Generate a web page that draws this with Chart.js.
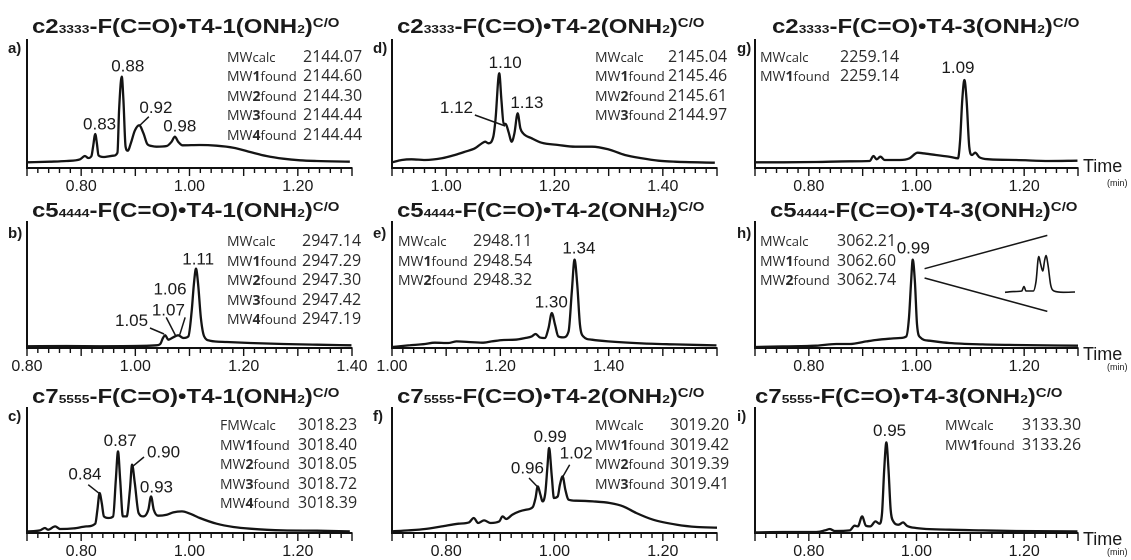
<!DOCTYPE html>
<html><head><meta charset="utf-8">
<script src="https://cdn.jsdelivr.net/npm/chart.js@4.4.1/dist/chart.umd.min.js"></script>
<style>
html,body{margin:0;padding:0;background:#fff;}
#fig{position:relative;width:1131px;height:560px;overflow:hidden;background:#fff;}
.cv{position:absolute;}
.t{position:absolute;white-space:nowrap;line-height:1;color:#1a1a1a;}
.title{font-family:"Liberation Sans",Arial,sans-serif;font-weight:bold;font-size:20px;transform:scaleX(1.2);transform-origin:0 0;}
.title .sb{font-size:11.5px;line-height:0;}
.title .sp{font-size:12.5px;line-height:0;vertical-align:6px;}
.let{font-family:"Liberation Sans",Arial,sans-serif;font-weight:bold;font-size:15px;}
.mwl{font-family:"Open Sans",sans-serif;font-size:14px;color:#2b2b2b;}
.mwl b{font-weight:700;}
.mwl .s{font-size:13px;}
.mwv{font-family:"Open Sans",sans-serif;font-size:16px;color:#2b2b2b;}
.time{font-family:"Liberation Sans",Arial,sans-serif;font-size:18px;}
.mins{font-family:"Liberation Sans",Arial,sans-serif;font-size:9px;}
</style></head>
<body><div id="fig"></div>
<script>
// ---------- data (time in min, signal in arbitrary units) ----------
const aTime=[0.700,0.742,0.773,0.798,0.807,0.813,0.819,0.822,0.826,0.829,0.832,0.841,0.859,0.867,0.870,0.875,0.878,0.882,0.886,0.892,0.899,0.907,0.915,0.922,0.930,0.939,0.958,0.967,0.973,0.979,0.987,1.019,1.050,1.081,1.112,1.142,1.173,1.204,1.235,1.296];
const aSignal=[5.7,6.3,7,8.7,12,10,12,21.3,34,24.7,12.7,11,12.3,15.3,58,91.3,68,21.3,17.3,25.3,37.3,42.7,34.7,24,22,21.3,22,26.3,31.3,26.3,22.7,23,22.3,20.3,16,12,9.3,7.7,7,6.3];
const dTime=[0.900,0.918,0.936,0.961,0.992,1.016,1.035,1.053,1.066,1.072,1.078,1.087,1.091,1.098,1.102,1.106,1.110,1.115,1.121,1.126,1.132,1.137,1.142,1.158,1.176,1.207,1.238,1.269,1.299,1.330,1.361,1.392,1.422,1.496];
const dSignal=[5.7,8,8.7,8,9.7,13,16.3,19.7,24.7,26.3,24.7,31.3,48,94.7,68,44.7,44,36.3,26.3,34.7,54.7,39.7,34.7,29.7,25.3,23,21.3,21.3,18.7,13,9.7,7.3,6.3,5.3];
const gTime=[0.700,0.752,0.814,0.876,0.913,0.920,0.926,0.933,0.941,0.969,0.987,1.002,1.012,1.036,1.061,1.077,1.081,1.085,1.089,1.093,1.098,1.103,1.109,1.117,1.135,1.185,1.246,1.299];
const gSignal=[5.7,5.7,6,6.7,7,12,8.7,11.3,8,8,9.7,15.3,14.7,13,11.3,9.7,27.7,68,88,68,21.3,13,15.3,10.7,8.7,8,7,7.3];
const bTime=[0.800,0.873,0.935,0.996,1.039,1.046,1.051,1.055,1.061,1.070,1.079,1.089,1.098,1.104,1.108,1.112,1.116,1.121,1.127,1.138,1.169,1.212,1.273,1.335,1.399];
const bSignal=[1.7,2,1.7,2,2.7,4,10,12.7,8.3,10.7,12.7,10,11.7,36.7,63.3,79.3,63.3,30,11.7,7.3,6,5,4,3.3,2.7];
const eTime=[1.000,1.030,1.061,1.079,1.104,1.119,1.141,1.166,1.184,1.206,1.227,1.246,1.258,1.265,1.273,1.282,1.289,1.295,1.301,1.307,1.316,1.326,1.332,1.337,1.342,1.347,1.353,1.369,1.399,1.461,1.522,1.599];
const eSignal=[1,2.6,4,5.3,5,6.6,6,5.3,6.6,8,8.3,10,11.6,14,10.6,10,20,35,23.3,11.6,10.6,16.6,56.6,88.3,63.3,23.3,11.6,8.3,6.6,4.6,3.6,2.6];
const hTime=[0.700,0.752,0.814,0.851,0.876,0.907,0.925,0.950,0.969,0.981,0.986,0.990,0.993,0.997,1.001,1.007,1.024,1.061,1.123,1.185,1.300];
const hSignal=[1,1.6,2.3,4,4,6.6,8,9.3,10,11.6,30,66.6,88.3,66.6,23.3,10.6,7.3,5,3.6,3,2.3];
const hInsetOffset=[0,8.3,16.7,19,21,28.3,31,33.7,35.7,37.7,39.7,41,43,45.7,49,58.3,70];
const hInsetSignal=[0,0.7,1.3,5.7,1.3,1.3,10.7,35.7,28,21.3,32.3,36.7,27.3,7.3,1.3,0,0.3];
const cTime=[0.700,0.724,0.733,0.739,0.752,0.761,0.786,0.810,0.826,0.830,0.834,0.838,0.842,0.850,0.859,0.864,0.868,0.872,0.877,0.884,0.890,0.894,0.899,0.906,0.915,0.924,0.929,0.934,0.942,0.958,0.970,0.986,1.001,1.019,1.050,1.081,1.112,1.173,1.235,1.296];
const cSignal=[1.6,2.6,5,3.3,6.6,4,4.6,6.6,9.3,23.3,40,30,16.6,15,16.6,53.3,81.6,53.3,16.6,16.6,43.3,68.3,50,20,16.6,23.3,36.6,23.3,17.3,18.3,20.6,21.6,19.3,15,9.3,6,4.3,2.6,2.3,1.6];
const fTime=[0.700,0.730,0.761,0.792,0.823,0.842,0.851,0.859,0.870,0.882,0.898,0.904,0.911,0.922,0.935,0.947,0.960,0.965,0.969,0.974,0.978,0.983,0.987,0.990,0.995,0.999,1.006,1.010,1.015,1.020,1.026,1.040,1.071,1.102,1.127,1.151,1.182,1.226,1.263,1.300];
const fSignal=[1.6,2.6,4,6.6,9.3,10.6,15,10,12.6,10,11.6,16.6,14,18.3,21.6,23.3,26,35,46.6,38.3,31.6,40,66.6,85,56.6,35,36.6,48.3,56.6,43.3,33.3,32.3,31.6,30,26.6,20,13.3,8.3,6,5.3];
const iTime=[0.700,0.752,0.814,0.830,0.839,0.848,0.876,0.885,0.891,0.899,0.906,0.914,0.924,0.931,0.936,0.940,0.944,0.948,0.952,0.957,0.967,0.975,0.982,0.999,1.061,1.123,1.185,1.299];
const iSignal=[0.6,1,1,2.6,4,2,2.6,7.3,6.6,16.6,7.3,6.6,11.6,9.3,20,63.3,90.6,63.3,23.3,11.6,8.3,10.6,7.3,5,3.3,2.6,2,1.6];

// tick labels shown (hundredths of a minute)
const labelsABC=[80,100,120], labelsB=[80,100,120,140], labelsDE=[100,120,140];

// mass tables
const aMW=[['MW','','calc','2144.07'],['MW','1','found','2144.60'],['MW','2','found','2144.30'],['MW','3','found','2144.44'],['MW','4','found','2144.44']];
const dMW=[['MW','','calc','2145.04'],['MW','1','found','2145.46'],['MW','2','found','2145.61'],['MW','3','found','2144.97']];
const gMW=[['MW','','calc','2259.14'],['MW','1','found','2259.14']];
const bMW=[['MW','','calc','2947.14'],['MW','1','found','2947.29'],['MW','2','found','2947.30'],['MW','3','found','2947.42'],['MW','4','found','2947.19']];
const eMW=[['MW','','calc','2948.11'],['MW','1','found','2948.54'],['MW','2','found','2948.32']];
const hMW=[['MW','','calc','3062.21'],['MW','1','found','3062.60'],['MW','2','found','3062.74']];
const cMW=[['FMW','','calc','3018.23'],['MW','1','found','3018.40'],['MW','2','found','3018.05'],['MW','3','found','3018.72'],['MW','4','found','3018.39']];
const fMW=[['MW','','calc','3019.20'],['MW','1','found','3019.42'],['MW','2','found','3019.39'],['MW','3','found','3019.41']];
const iMW=[['MW','','calc','3133.30'],['MW','1','found','3133.26']];

// peak annotations [text, time, signal] and leader lines [t1,s1,t2,s2]
const aPeaks=[['0.83',0.834,43],['0.88',0.886,101],['0.92',0.938,59.7],['0.98',0.982,41.3]];
const aLeaders=[[0.909,43,0.925,51.3]];
const dPeaks=[['1.10',1.109,104.7],['1.12',1.019,59.7],['1.13',1.149,64.7]];
const dLeaders=[[1.053,53,1.109,42]];
const gPeaks=[['1.09',1.077,99.7]];
const bPeaks=[['1.11',1.116,88.3],['1.06',1.064,58.3],['1.07',1.061,37.3],['1.05',0.993,26.7]];
const bLeaders=[[1.027,20,1.053,14],[1.057,30.6,1.075,11.6],[1.092,30.6,1.082,13.3]];
const ePeaks=[['1.34',1.345,99.3],['1.30',1.294,45]];
const hPeaks=[['0.99',0.994,99.3]];
const hLeaders=[[1.015,79.3,1.243,112.6],[1.015,70,1.243,36.6]];
const cPeaks=[['0.84',0.807,58.3],['0.87',0.872,91.6],['0.90',0.952,80],['0.93',0.939,45]];
const cLeaders=[[0.813,48.3,0.834,39.3],[0.916,76,0.895,66.6]];
const fPeaks=[['0.99',0.992,95.6],['0.96',0.950,64],['1.02',1.040,79]];
const fLeaders=[[0.953,55,0.969,46],[1.028,68.3,1.015,56]];
const iPeaks=[['0.95',0.950,101.6]];

// ---------- layout ----------
const COLS=[{l:27,r:352},{l:392,r:717},{l:755,r:1078}];
const ROWS=[{t:40,b:168,tb:33.3,mb:62,lb:53,time:172,min:187},
            {t:222,b:348,tb:216.7,mb:246.5,lb:238,time:360,min:371},
            {t:408,b:533,tb:403.3,mb:430.5,lb:421,time:545,min:556}];
const PANELS=[
 {k:'a',col:0,row:0,xmin:0.70,xmax:1.30,time:aTime,sig:aSignal,lab:labelsABC,ti:['2','3333','1'],tx:32,mw:aMW,mx:227,vx:303,lx:8,peaks:aPeaks,lead:aLeaders},
 {k:'d',col:1,row:0,xmin:0.90,xmax:1.50,time:dTime,sig:dSignal,lab:labelsDE,ti:['2','3333','2'],tx:397,mw:dMW,mx:595,vx:668,lx:373,peaks:dPeaks,lead:dLeaders},
 {k:'g',col:2,row:0,xmin:0.70,xmax:1.30,time:gTime,sig:gSignal,lab:labelsABC,ti:['2','3333','3'],tx:772,mw:gMW,mx:760,vx:840,lx:737,peaks:gPeaks,lead:[]},
 {k:'b',col:0,row:1,xmin:0.80,xmax:1.40,time:bTime,sig:bSignal,lab:labelsB,ti:['5','4444','1'],tx:32,mw:bMW,mx:227,vx:302,lx:8,peaks:bPeaks,lead:bLeaders},
 {k:'e',col:1,row:1,xmin:1.00,xmax:1.60,time:eTime,sig:eSignal,lab:labelsDE,ti:['5','4444','2'],tx:397,mw:eMW,mx:398,vx:473,lx:373,peaks:ePeaks,lead:[]},
 {k:'h',col:2,row:1,xmin:0.70,xmax:1.30,time:hTime,sig:hSignal,lab:labelsABC,ti:['5','4444','3'],tx:770,mw:hMW,mx:760,vx:837,lx:737,peaks:hPeaks,lead:hLeaders,inset:true},
 {k:'c',col:0,row:2,xmin:0.70,xmax:1.30,time:cTime,sig:cSignal,lab:labelsABC,ti:['7','5555','1'],tx:32,mw:cMW,mx:220,vx:298,lx:8,peaks:cPeaks,lead:cLeaders},
 {k:'f',col:1,row:2,xmin:0.70,xmax:1.30,time:fTime,sig:fSignal,lab:labelsABC,ti:['7','5555','2'],tx:397,mw:fMW,mx:595,vx:670,lx:373,peaks:fPeaks,lead:fLeaders},
 {k:'i',col:2,row:2,xmin:0.70,xmax:1.30,time:iTime,sig:iSignal,lab:labelsABC,ti:['7','5555','3'],tx:755,mw:iMW,mx:945,vx:1022,lx:737,peaks:iPeaks,lead:[]}
];
const PL=30,PR=30,PT=4,AX=34;
const FONT='"Liberation Sans", Arial, sans-serif';
const fig=document.getElementById('fig');
Chart.defaults.font.family=FONT;

function makeDeco(p){
  return {id:'deco'+p.k, afterDraw(chart){
    const {ctx,chartArea:ca,scales}=chart; const x=scales.x,y=scales.y;
    ctx.save();
    ctx.strokeStyle='#111'; ctx.lineWidth=1.4;
    x.ticks.forEach(t=>{const px=x.getPixelForValue(t.value);const kk=Math.round(t.value*100);
      const len=(kk%10===0)?8:5; ctx.beginPath();ctx.moveTo(px,ca.bottom);ctx.lineTo(px,ca.bottom+len);ctx.stroke();});
    ctx.lineWidth=1.5; ctx.strokeStyle='#161616';
    p.lead.forEach(L=>{ctx.beginPath();ctx.moveTo(x.getPixelForValue(L[0]),y.getPixelForValue(L[1]));
      ctx.lineTo(x.getPixelForValue(L[2]),y.getPixelForValue(L[3]));ctx.stroke();});
    ctx.font='17px '+FONT; ctx.fillStyle='#1a1a1a'; ctx.textAlign='center'; ctx.textBaseline='middle';
    p.peaks.forEach(q=>ctx.fillText(q[0],x.getPixelForValue(q[1]),y.getPixelForValue(q[2])));
    ctx.restore();
  }};
}

function config(p,h){
  const datasets=[{data:p.time.map((t,i)=>({x:t,y:p.sig[i]})),borderColor:'#141414',borderWidth:2.3,pointRadius:0,cubicInterpolationMode:'monotone',fill:false}];
  const scales={
    x:{type:'linear',min:p.xmin,max:p.xmax,
      afterBuildTicks(s){const a=[];for(let k=Math.round(p.xmin*50);k<=Math.round(p.xmax*50);k++)a.push({value:k/50});s.ticks=a;},
      ticks:{autoSkip:false,maxRotation:0,minRotation:0,padding:9,color:'#1a1a1a',font:{size:16,family:FONT},
        callback:(v)=>p.lab.includes(Math.round(v*100))?v.toFixed(2):''},
      grid:{display:true,drawOnChartArea:false,drawTicks:false},
      border:{display:true,color:'#111',width:2},
      afterFit(s){s.height=AX;s.paddingLeft=0;s.paddingRight=0;}},
    y:{type:'linear',min:0,max:h,ticks:{display:false},
      grid:{display:true,drawOnChartArea:false,drawTicks:false},
      border:{display:true,color:'#111',width:2},
      afterFit(s){s.width=0;}}
  };
  if(p.inset){
    datasets.push({data:hInsetOffset.map((t,i)=>({x:t,y:hInsetSignal[i]})),xAxisID:'xi',yAxisID:'yi',borderColor:'#141414',borderWidth:1.6,pointRadius:0,cubicInterpolationMode:'monotone',fill:false});
    scales.xi={type:'linear',display:false,min:-250,max:73};
    scales.yi={type:'linear',display:false,min:-55.7,max:70.3};
  }
  return {type:'line',data:{datasets},plugins:[makeDeco(p)],
    options:{responsive:false,maintainAspectRatio:false,animation:false,devicePixelRatio:2,
      layout:{padding:{left:PL,right:PR,top:PT,bottom:0}},
      plugins:{legend:{display:false},tooltip:{enabled:false}},
      scales}};
}

function create(p,W,H,h){
  const c=document.createElement('canvas'); c.className='cv';
  c.width=W;c.height=H;c.style.width=W+'px';c.style.height=H+'px';
  fig.appendChild(c);
  const chart=new Chart(c,config(p,h));
  return {c,chart};
}

function txt(html,x,base,cls,fs,k){
  const d=document.createElement('div');d.className='t '+cls;
  d.style.left=x+'px';d.style.top=(base-k*fs)+'px';d.innerHTML=html;fig.appendChild(d);return d;
}

PANELS.forEach(p=>{
  const col=COLS[p.col],row=ROWS[p.row];
  const w=col.r-col.l,h=row.b-row.t;
  let W=w+PL+PR,H=h+PT+AX;
  let o=create(p,W,H,h);
  let ca=o.chart.chartArea;
  const dw=w-(ca.right-ca.left),dh=h-(ca.bottom-ca.top);
  if(Math.abs(dw)>0.5||Math.abs(dh)>0.5){
    o.chart.destroy();o.c.remove();
    W=Math.round(W+dw);H=Math.round(H+dh);
    o=create(p,W,H,h);ca=o.chart.chartArea;
  }
  o.c.style.left=(col.l-ca.left)+'px';o.c.style.top=(row.t-ca.top)+'px';
});

PANELS.forEach(p=>{
  const row=ROWS[p.row];
  const [n,sub,k]=p.ti;
  txt('c'+n+'<span class="sb">'+sub+'</span>-F(C=O)\u2022T4-'+k+'(ONH<span class="sb">2</span>)<span class="sp">C/O</span>',p.tx,row.tb,'title',20,0.8465);
  txt(p.k+')',p.lx,row.lb,'let',15,0.8465);
  p.mw.forEach((m,i)=>{
    const base=row.mb+i*19.5;
    txt(m[0]+(m[1]?'<b>'+m[1]+'</b>':'')+'<span class="s">'+m[2]+'</span>',p.mx,base,'mwl',14,0.888);
    txt(m[3],p.vx,base,'mwv',16,0.888);
  });
});
ROWS.forEach(r=>{
  txt('Time',1083,r.time,'time',18,0.8465);
  txt('(min)',1107,r.min,'mins',9,0.8465);
});
</script></body></html>
